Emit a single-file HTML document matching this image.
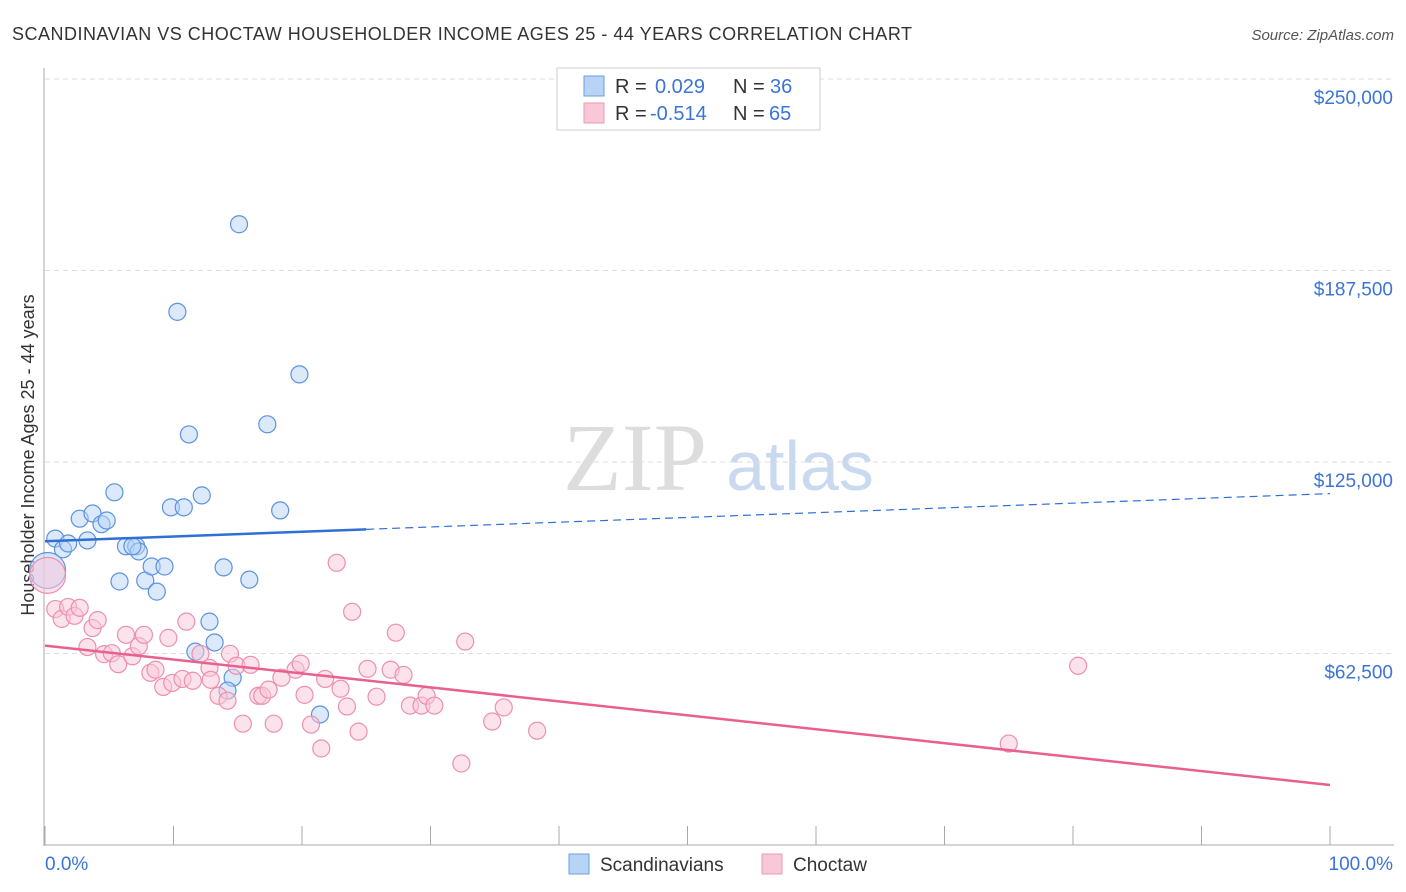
<!DOCTYPE html>
<html><head><meta charset="utf-8"><style>
body{margin:0;background:#fff;font-family:"Liberation Sans",sans-serif}
svg{display:block}
</style></head><body>
<svg id="c" width="1406" height="892" xmlns="http://www.w3.org/2000/svg">
<text x="12" y="40" font-size="18" fill="#333" textLength="900" lengthAdjust="spacing">SCANDINAVIAN VS CHOCTAW HOUSEHOLDER INCOME AGES 25 - 44 YEARS CORRELATION CHART</text>
<text x="1394" y="40" font-size="15" fill="#555" font-style="italic" text-anchor="end">Source: ZipAtlas.com</text>
<text transform="translate(34,455) rotate(-90)" font-size="18" fill="#333" text-anchor="middle">Householder Income Ages 25 - 44 years</text>
<g><text x="635" y="490" font-size="96" font-family="Liberation Serif,serif" fill="#ddd" text-anchor="middle">ZIP</text><text x="800" y="490" font-size="70" fill="#c9daf0" text-anchor="middle">atlas</text></g>
<g id="grid"></g><g id="axes"></g><g id="pts"></g><g id="trend"></g>
<g>
<rect x="557" y="68" width="263" height="62" fill="#fff" stroke="#ccc"/>
<rect x="584" y="76" width="20" height="20" fill="#b8d4f5" stroke="#6a9ee0"/>
<rect x="584" y="103" width="20" height="20" fill="#f9c8d8" stroke="#ec9ab5"/>
<text x="615" y="93" font-size="20" fill="#333">R =</text><text x="655" y="93" font-size="20" fill="#3b74d6">0.029</text>
<text x="733" y="93" font-size="20" fill="#333">N =</text><text x="770" y="93" font-size="20" fill="#3b74d6">36</text>
<text x="615" y="120" font-size="20" fill="#333">R =</text><text x="650" y="120" font-size="20" fill="#3b74d6">-0.514</text>
<text x="733" y="120" font-size="20" fill="#333">N =</text><text x="769" y="120" font-size="20" fill="#3b74d6">65</text>
</g>
<g>
<rect x="569" y="854" width="20" height="20" fill="#b8d4f5" stroke="#6a9ee0"/>
<text x="600" y="871" font-size="19" fill="#333">Scandinavians</text>
<rect x="762" y="854" width="20" height="20" fill="#f9c8d8" stroke="#ec9ab5"/>
<text x="793" y="871" font-size="19" fill="#333">Choctaw</text>
</g>
</svg>
<script>
const yTicks=[62500,125000,187500,250000];
const yTickLabels=["$62,500","$125,000","$187,500","$250,000"];
const blueX=[0.8,1.4,1.8,2.7,3.3,3.7,4.4,4.8,5.4,6.3,7.1,7.3,5.8,7.8,8.3,8.7,9.3,9.8,10.8,12.2,10.3,11.2,15.1,17.3,19.8,18.3,13.9,15.9,12.8,13.2,11.7,14.6,14.2,21.4,0.2,6.8];
const blueY=[100000,96500,98400,106500,99400,108200,104700,105900,115100,97500,97500,95800,86000,86300,90900,82700,90900,110200,110200,114100,174000,134000,202600,137300,153600,109200,90600,86600,72900,66100,63100,54600,50400,42600,89600,97500];
const pinkX=[0.8,1.3,1.8,2.3,2.7,3.7,4.1,3.3,4.6,5.2,5.7,6.3,6.8,7.3,7.7,8.2,8.6,9.2,9.6,9.9,11.0,10.7,11.5,12.1,12.8,12.9,13.5,14.2,14.4,14.9,15.4,16.0,16.6,16.9,17.4,17.8,18.4,19.5,19.9,20.2,20.7,21.5,21.8,22.7,23.0,23.5,23.9,24.4,25.1,25.8,26.9,27.3,27.9,28.4,29.3,29.7,30.3,32.4,32.7,34.8,35.7,38.3,75.0,80.4,0.2];
const pinkY=[77000,73800,77700,74800,77400,70800,73400,64600,62300,62600,59000,68600,61600,64900,68600,56200,57200,51600,67600,52900,72900,54200,53600,62400,57800,53900,48700,47100,62400,58500,39600,58800,48700,48700,50700,39600,54600,57200,59200,49000,39300,31500,54200,92100,51000,45200,76100,37000,57500,48400,57200,69300,55500,45500,45500,48700,45500,26600,66400,40300,44900,37300,33100,58500,88000];
const SVGNS="http://www.w3.org/2000/svg";
const X0=45,X1=1330,YB=845,YPX=191.5/62500;
const sx=v=>X0+(X1-X0)*v/100, sy=v=>YB-v*YPX;
function mk(parent,tag,attrs){const e=document.createElementNS(SVGNS,tag);for(const k in attrs)e.setAttribute(k,attrs[k]);document.getElementById(parent).appendChild(e);return e;}
yTicks.forEach((t,i)=>{
 const l=mk('grid','line',{x1:45,x2:1394,y1:sy(t),y2:sy(t),stroke:'#ddd','stroke-dasharray':'5,4'});
 
 
 const tx=mk('grid','text',{x:1393,y:sy(t)+25,'font-size':19,fill:'#3b74d6','text-anchor':'end'});
 tx.textContent=yTickLabels[i];
 
 
});
const ax=mk('axes','line',{x1:44,x2:44,y1:68,y2:846,stroke:'#aaa'});


const bx=mk('axes','line',{x1:44,x2:1394,y1:845,y2:845,stroke:'#aaa'});


for(let i=0;i<=10;i++){
 const t=mk('axes','line',{x1:sx(i*10),x2:sx(i*10),y1:826,y2:845,stroke:'#aaa'});
 
 
}
const xl0=mk('axes','text',{x:45,y:870,'font-size':19,fill:'#3b74d6'});xl0.textContent='0.0%';


const xl1=mk('axes','text',{x:1393,y:870,'font-size':19,fill:'#3b74d6','text-anchor':'end'});xl1.textContent='100.0%';


function dots(xs,ys,fill,stroke,name){xs.forEach((x,i)=>{
 const big=(x<0.5);
 const c=mk('pts','circle',{cx:sx(x),cy:sy(ys[i]),r:big?18:8.5,fill:fill,'fill-opacity':big?0.55:0.5,stroke:stroke,'stroke-width':1.2});
 
 
});}
dots(blueX,blueY,'#b8d4f5','#5b93e0','scandinavian-point');
dots(pinkX,pinkY,'#f9c8d8','#ec8fb0','choctaw-point');
function fit(xs,ys){const n=xs.length;let mx=0,my=0;xs.forEach((x,i)=>{mx+=x;my+=ys[i];});mx/=n;my/=n;let a=0,b=0;xs.forEach((x,i)=>{a+=(x-mx)*(ys[i]-my);b+=(x-mx)*(x-mx);});const s=a/b;return [s,my-s*mx];}
const bf=fit(blueX,blueY),pf=fit(pinkX,pinkY);
const bl=mk('trend','line',{x1:sx(0),y1:sy(bf[1]),x2:sx(25),y2:sy(bf[1]+bf[0]*25),stroke:'#2f6fd6','stroke-width':2.5});


const bd=mk('trend','line',{x1:sx(25),y1:sy(bf[1]+bf[0]*25),x2:sx(100),y2:sy(bf[1]+bf[0]*100),stroke:'#2f6fd6','stroke-width':1.2,'stroke-dasharray':'8,5'});


const pl=mk('trend','line',{x1:sx(0),y1:sy(pf[1]),x2:sx(100),y2:sy(pf[1]+pf[0]*100),stroke:'#e8608e','stroke-width':2.5});


</script>
</body></html>
